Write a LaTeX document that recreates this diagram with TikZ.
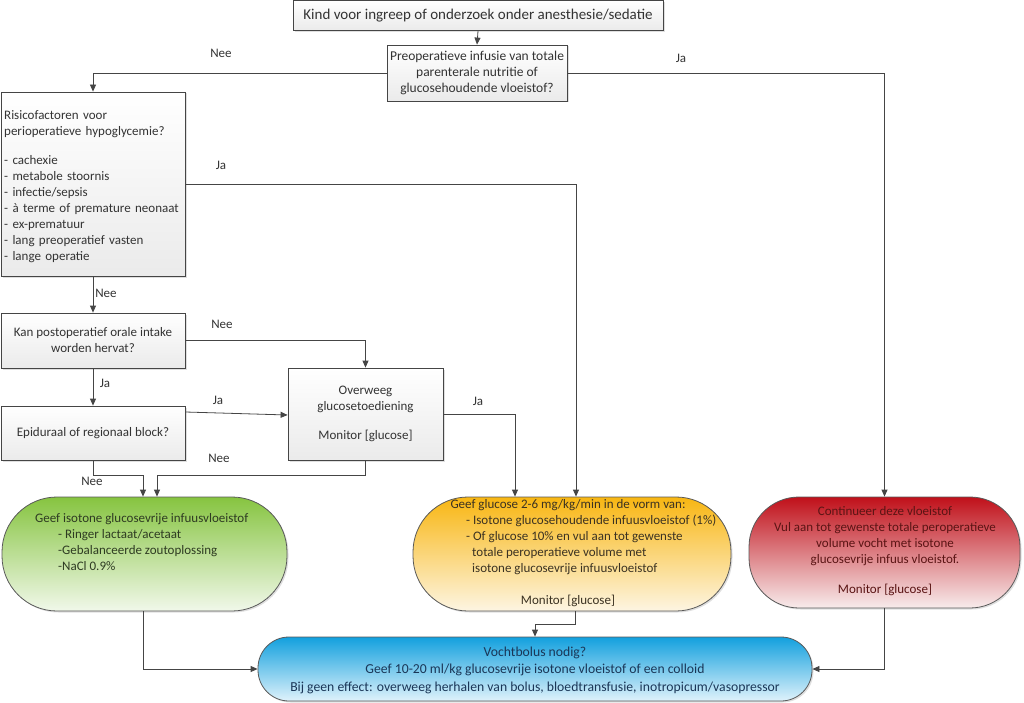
\documentclass[tikz,border=0pt]{standalone}
\usepackage{fontspec}
\setmainfont{Carlito}
\usetikzlibrary{arrows.meta,shadows,calc}
\definecolor{linec}{HTML}{454545}
\definecolor{txt}{HTML}{333333}
\definecolor{gtop}{HTML}{86C440}
\definecolor{gbot}{HTML}{F1F8EA}
\definecolor{otop}{HTML}{F8B612}
\definecolor{obot}{HTML}{FDF5E2}
\definecolor{rtop}{HTML}{C0101A}
\definecolor{rbot}{HTML}{F8ECEC}
\definecolor{btop}{HTML}{12A0DE}
\definecolor{bbot}{HTML}{DFF2FB}
\definecolor{gtxt}{HTML}{2E3B22}
\definecolor{otxt}{HTML}{3B3222}
\definecolor{rtxt}{HTML}{5A1414}
\definecolor{btxt}{HTML}{1A3657}
\tikzset{
  box/.style={draw=linec, line width=0.8pt, top color=white, bottom color=black!8,
    inner sep=0pt, text=txt, font=\fontsize{13}{16}\selectfont, align=center,
    drop shadow={shadow xshift=1.5pt, shadow yshift=-1.5pt, opacity=0.25}},
  pill/.style={draw=black!65, line width=0.8pt, inner sep=0pt,
    drop shadow={shadow xshift=1.5pt, shadow yshift=-1.5pt, opacity=0.25}},
  ptext/.style={inner sep=0pt, font=\fontsize{13}{16}\selectfont},
  conn/.style={draw=linec, line width=0.8pt, -{Triangle[length=7pt,width=6pt]}},
  lab/.style={inner sep=0pt, text=txt, font=\fontsize{13}{16}\selectfont}
}
\begin{document}
\begin{tikzpicture}[x=1pt,y=-1pt]
\useasboundingbox (0,0) rectangle (1024,703);
% boxes
\node[box, minimum width=370pt, minimum height=30pt, font=\fontsize{15}{18}\selectfont] (top) at (478,15.5) {Kind voor ingreep of onderzoek onder anesthesie/sedatie};
\node[box, minimum width=180pt, minimum height=56pt, font=\fontsize{13.5}{16}\selectfont] (q1) at (477,73) {Preoperatieve infusie van totale\\parenterale nutritie of\\glucosehoudende vloeistof?};
\node[box, minimum width=184pt, minimum height=184pt] (risk) at (93,184) {};
\node[lab, text width=177pt, align=left, anchor=north west] (risktxt) at (4,110) {Risicofactoren voor\\perioperatieve hypoglycemie?\\[13pt]- cachexie\\- metabole stoornis\\- infectie/sepsis\\- à terme of premature neonaat\\- ex-prematuur\\- lang preoperatief vasten\\- lange operatie};
\node[box, minimum width=184pt, minimum height=55pt] (oral) at (93,340.5) {Kan postoperatief orale intake\\worden hervat?};
\node[box, minimum width=184pt, minimum height=54pt] (epi) at (93,433) {Epiduraal of regionaal block?};
\node[box, minimum width=155pt, minimum height=92pt] (over) at (365.5,414) {Overweeg\\glucosetoediening\\[13pt]Monitor [glucose]};
% pills
\node[pill, minimum width=285pt, minimum height=114pt, rounded corners=55pt, top color=gtop, bottom color=gbot] (green) at (144.5,554) {};
\node[ptext, text=gtxt, align=left, anchor=north west] (greentxt) at (35,513) {Geef isotone glucosevrije infuusvloeistof\\\hspace*{23pt}- Ringer lactaat/acetaat\\\hspace*{23pt}-Gebalanceerde zoutoplossing\\\hspace*{23pt}-NaCl 0.9\%};
\node[pill, minimum width=318pt, minimum height=114pt, rounded corners=55pt, top color=otop, bottom color=obot] (orange) at (572,554) {};
\node[ptext, text=otxt, anchor=north] (orangetxt1) at (568,499) {Geef glucose 2-6 mg/kg/min in de vorm van:};
\node[ptext, text=otxt, align=left, anchor=north west] (orangetxt2) at (466,515) {- Isotone glucosehoudende infuusvloeistof (1\%)\\- Of glucose 10\% en vul aan tot gewenste\\\hspace*{6pt}totale peroperatieve volume met\\\hspace*{6pt}isotone glucosevrije infuusvloeistof};
\node[ptext, text=otxt] (orangetxt3) at (568,601) {Monitor [glucose]};
\node[pill, minimum width=271pt, minimum height=111pt, rounded corners=50pt, top color=rtop, bottom color=rbot] (red) at (884.5,552.5) {};
\node[ptext, text=rtxt, align=center, anchor=north] (redtxt) at (885,506) {Continueer deze vloeistof\\Vul aan tot gewenste totale peroperatieve\\volume vocht met isotone\\glucosevrije infuus vloeistof.\\[14pt]Monitor [glucose]};
\node[pill, minimum width=554pt, minimum height=64pt, rounded corners=31pt, top color=btop, bottom color=bbot] (blue) at (535,669) {};
\node[ptext, text=btxt, align=center, font=\fontsize{13.7}{17.5}\selectfont] (bluetxt) at (535,670) {Vochtbolus nodig?\\Geef 10-20 ml/kg glucosevrije isotone vloeistof of een colloid\\Bij geen effect: overweeg herhalen van bolus, bloedtransfusie, inotropicum/vasopressor};
% connectors
\draw[conn] (top.south) -- (q1.north);
\draw[conn] (q1.west) -| (risk.north);
\draw[conn] (q1.east) -| (red.north);
\draw[conn] (risk.east) -| ([xshift=4pt]orange.north);
\draw[conn] (risk.south) -- (oral.north);
\draw[conn] (oral.east) -| (over.north);
\draw[conn] (oral.south) -- (epi.north);
\draw[conn] ([yshift=21pt]epi.east) -- ([yshift=-1pt]over.west);
\draw[conn] (over.east) -| ([xshift=-57pt]orange.north);
\draw[conn] (over.south) -- ++(0,15) -| ([xshift=12.5pt]green.north);
\draw[conn] (epi.south) -- ++(0,15) -| ([xshift=-1.5pt]green.north);
\draw[conn] ([xshift=-1.5pt]green.south) |- (blue.west);
\draw[conn] ([xshift=3pt]orange.south) -- ++(0,13) -| (blue.north);
\draw[conn] (red.south) |- (blue.east);
% labels
\node[lab] (l1) at (221,53) {Nee};
\node[lab] (l2) at (681,58) {Ja};
\node[lab] (l3) at (221,165) {Ja};
\node[lab] (l4) at (106,293) {Nee};
\node[lab] (l5) at (222,324) {Nee};
\node[lab] (l6) at (105,383) {Ja};
\node[lab] (l7) at (218,400) {Ja};
\node[lab] (l8) at (478,401) {Ja};
\node[lab] (l9) at (219,458) {Nee};
\node[lab] (l10) at (92,481) {Nee};
\end{tikzpicture}
\end{document}
